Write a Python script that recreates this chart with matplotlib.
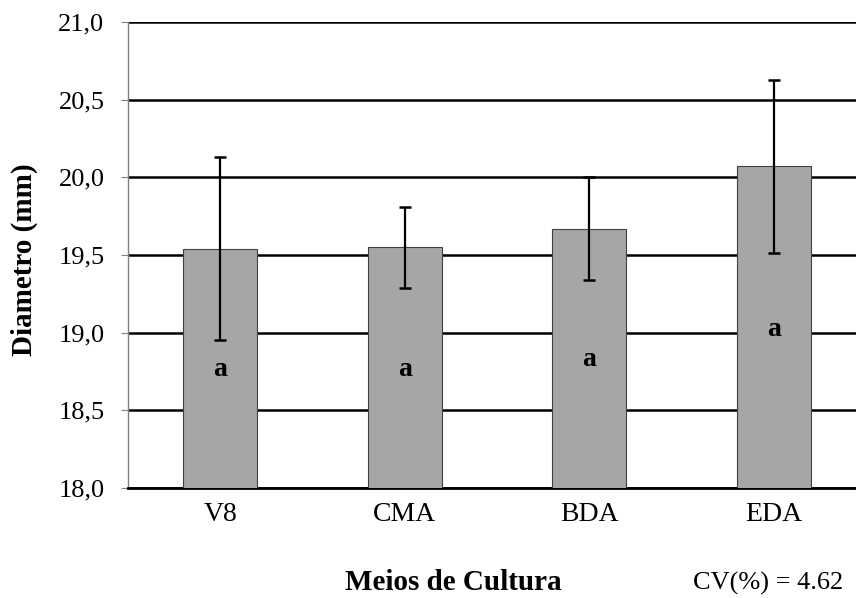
import numpy as np
import matplotlib
matplotlib.use("Agg")
import matplotlib.pyplot as plt

plt.rcParams['font.family'] = ['Liberation Serif', 'DejaVu Serif']

meios = ["V8", "CMA", "BDA", "EDA"]
diametro = [19.54, 19.55, 19.67, 20.07]
erro = [0.59, 0.26, 0.33, 0.555]
letras = ["a", "a", "a", "a"]
letra_y = [18.76, 18.76, 18.83, 19.02]
yticks = [18.0, 18.5, 19.0, 19.5, 20.0, 20.5, 21.0]

fig = plt.figure(figsize=(8.56, 5.98), dpi=100)
ax = fig.add_axes([128/856, 1-488/598, 1-128/856, (488-22)/598])

x = np.arange(len(meios))
ax.bar(x, diametro, width=0.40, color="#a6a6a6", edgecolor="#404040",
       linewidth=0.8, zorder=3)
ax.errorbar(x, diametro, yerr=erro, fmt="none", ecolor="black",
            elinewidth=1.6, capsize=4.5, capthick=1.8, zorder=4)

for xi, lab, ly in zip(x, letras, letra_y):
    ax.text(xi, ly, lab, ha="center", va="center", fontsize=20,
            fontweight="bold", zorder=5)

ax.set_ylim(18.0, 21.0)
ax.set_xlim(-0.5, -0.5 + 728/184.5)
ax.set_yticks(yticks)
ax.set_yticklabels([("%.1f" % v).replace(".", ",") for v in yticks], fontsize=19)
ax.set_xticks(x)
ax.set_xticklabels(meios, fontsize=20)
ax.tick_params(axis="x", length=0, pad=10)
ax.tick_params(axis="y", length=5, color="#808080", direction="out", pad=12)

ax.yaxis.grid(True, color="black", linewidth=1.8, zorder=0)
ax.set_axisbelow(True)
for s in ["top", "right"]:
    ax.spines[s].set_visible(False)
ax.spines["left"].set_color("#808080")
ax.spines["left"].set_linewidth(1.0)
ax.spines["bottom"].set_color("black")
ax.spines["bottom"].set_linewidth(2.0)

fig.text(24/856, 1-260/598, "Diametro (mm)", ha="center", va="center",
         rotation=90, fontsize=21, fontweight="bold")
fig.text(453/856, 1-583/598, "Meios de Cultura", ha="center", va="center",
         fontsize=21, fontweight="bold")
fig.text(768/856, 1-583/598, "CV(%) = 4.62", ha="center", va="center",
         fontsize=19)

fig.savefig("out.png", dpi=100)
